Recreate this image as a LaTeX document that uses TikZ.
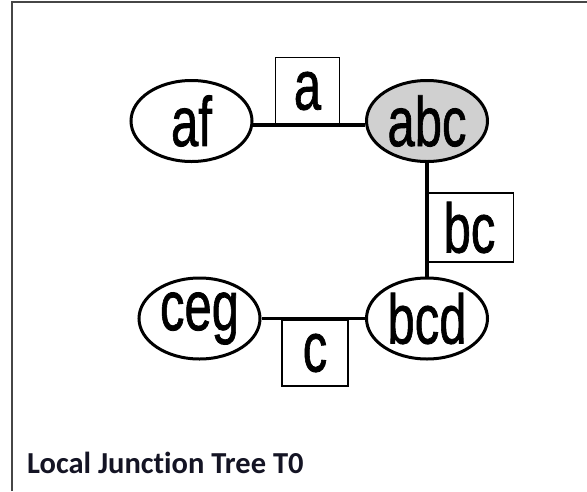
\documentclass[tikz,border=0pt]{standalone}
\usepackage{fontspec}
\usepackage{graphicx}
\setmainfont{Liberation Sans}
\newfontfamily\nodefont[FakeBold=1.2]{Liberation Sans}
\newfontfamily\titlefont[Ligatures=NoCommon]{Carlito}
\usetikzlibrary{shapes.geometric}
\definecolor{abcgray}{RGB}{208,208,208}
\definecolor{titlecol}{RGB}{20,20,36}
\definecolor{framegray}{RGB}{70,70,70}
\newcommand\narrowtxt[1]{\scalebox{0.7}[1]{#1}}
\begin{document}
\begin{tikzpicture}[x=1pt,y=-1pt,
  clique/.style={ellipse, draw, line width=3pt, minimum width=121pt, minimum height=81pt,
    inner sep=0pt, fill=white, font=\nodefont\fontsize{70}{70}\selectfont},
  sepbox/.style={draw, line width=1.1pt, inner sep=0pt, fill=white,
    font=\nodefont\fontsize{70}{70}\selectfont},
  conn/.style={line width=3.8pt},
  frameline/.style={line width=2pt, draw=framegray}]
\useasboundingbox (0,0) rectangle (587,491);
\fill[white] (0,0) rectangle (587,491);
\draw[frameline] (11.7,491) -- (11.7,1.7) -- (587,1.7);

\node[sepbox, minimum width=64pt, minimum height=67pt] (sa) at (307.5,91) {\narrowtxt{a}};
\node[sepbox, minimum width=88pt, minimum height=69pt] (sbc) at (469.5,227.5) {\narrowtxt{bc}};
\node[sepbox, minimum width=66pt, minimum height=66pt] (sc) at (315,353) {\narrowtxt{c}};

\node[clique] (af) at (191.5,121) {\narrowtxt{af}};
\node[clique, fill=abcgray] (abc) at (427,121) {\narrowtxt{abc}};
\node[clique] (ceg) at (199.5,318.5) {\narrowtxt{ceg}};
\node[clique] (bcd) at (427,318.5) {\narrowtxt{bcd}};

\draw[conn] (af.-4) -- (abc.184);
\draw[conn] (abc.south) -- (bcd.north);
\draw[conn] (ceg.east) -- (bcd.west);

\node[anchor=base west, inner sep=0pt, text=titlecol,
  font=\titlefont\bfseries\fontsize{30.5}{30.5}\selectfont] (title) at (27,473) {Local Junction Tree T0};
\end{tikzpicture}
\end{document}
